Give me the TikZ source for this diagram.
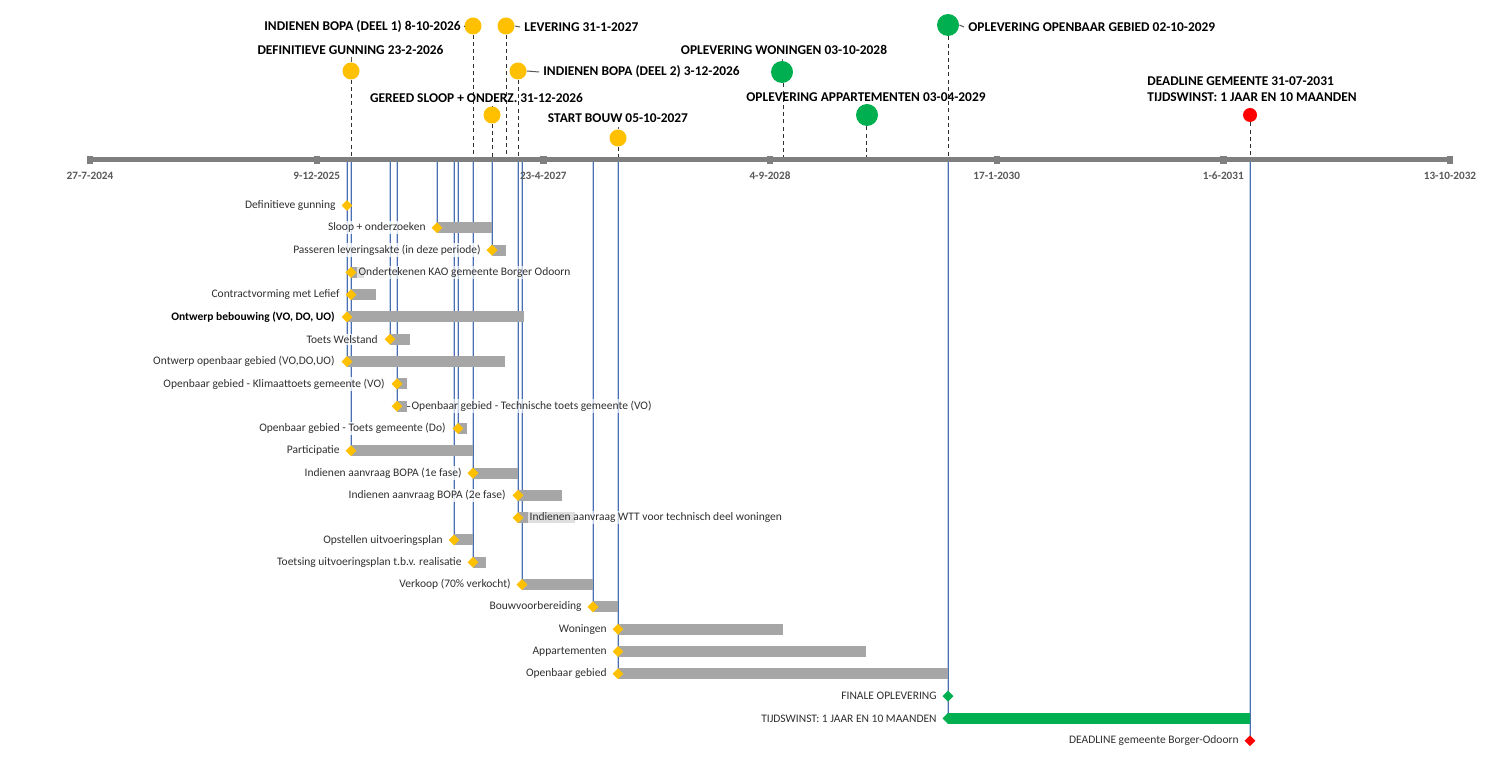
\documentclass[tikz,border=0pt]{standalone}
\usepackage{fontspec}
\setmainfont{Carlito}
\usetikzlibrary{shapes.geometric}
\definecolor{cyel}{HTML}{FFC000}
\definecolor{cgreen}{HTML}{00B050}
\definecolor{cred}{HTML}{FF0000}
\definecolor{cbar}{HTML}{A6A6A6}
\definecolor{caxis}{HTML}{7F7F7F}
\definecolor{ctext}{HTML}{303030}
\definecolor{ctick}{HTML}{595959}
\definecolor{cblue}{HTML}{4A6FB0}
\definecolor{cbluel}{HTML}{C3D2EA}
\begin{document}
\begin{tikzpicture}[x=0.5pt,y=-0.5pt,
  tasklbl/.style={anchor=east,xshift=1pt,inner xsep=1pt,inner ysep=0.8pt,text=ctext,fill=white,fill opacity=0.8,text opacity=1,font=\fontsize{5.75}{6.8}\selectfont},
  tasklblr/.style={anchor=west,inner xsep=0.6pt,inner ysep=0.8pt,text=ctext,fill=white,fill opacity=0.65,text opacity=1,font=\fontsize{5.75}{6.8}\selectfont},
  mslbl/.style={inner sep=0pt,text=black,font=\bfseries\fontsize{6.7}{8}\selectfont},
  axlbl/.style={inner sep=0pt,text=ctick,font=\bfseries\fontsize{5.6}{6.6}\selectfont},
  dia/.style={diamond,fill=cyel,inner sep=0pt,minimum size=5.6pt},
  diag/.style={diamond,fill=cgreen,inner sep=0pt,minimum size=5.6pt},
  diar/.style={diamond,fill=cred,inner sep=0pt,minimum size=5.6pt},
  msy/.style={circle,fill=cyel,inner sep=0pt,minimum size=8.5pt},
  msg/.style={circle,fill=cgreen,inner sep=0pt,minimum size=11pt},
  msr/.style={circle,fill=cred,inner sep=0pt,minimum size=7pt},
  bar/.style={fill=cbar},
  leadbg/.style={draw=cbluel,line width=1.4pt},
  lead/.style={draw=cblue,line width=0.45pt},
  dashln/.style={draw=ctext,line width=0.5pt,dash pattern=on 2pt off 1.6pt},
  mslead/.style={draw=ctick,line width=0.5pt},
  axisln/.style={draw=caxis,line width=2.5pt},
  tickbox/.style={rectangle,fill=caxis,inner sep=0pt,minimum width=3.2pt,minimum height=4pt}
]
\useasboundingbox[fill=white] (0,0) rectangle (1500,780);

% ---------- row coordinates ----------
\coordinate (r1) at (347,205.5);
\coordinate (r2) at (437,227.8);
\coordinate (r3) at (492,250.1);
\coordinate (r4) at (351,272.4);
\coordinate (r5) at (351,294.7);
\coordinate (r6) at (347,317.0);
\coordinate (r7) at (390,339.3);
\coordinate (r8) at (347,361.6);
\coordinate (r9) at (397,383.9);
\coordinate (r10) at (397,406.2);
\coordinate (r11) at (458,428.5);
\coordinate (r12) at (351,450.8);
\coordinate (r13) at (473,473.1);
\coordinate (r14) at (518,495.4);
\coordinate (r15) at (518,517.7);
\coordinate (r16) at (454,540.0);
\coordinate (r17) at (473,562.3);
\coordinate (r18) at (522,584.6);
\coordinate (r19) at (593,606.9);
\coordinate (r20) at (618,629.2);
\coordinate (r21) at (618,651.5);
\coordinate (r22) at (618,673.8);
\coordinate (r23) at (948,696.1);
\coordinate (r24) at (948,718.4);
\coordinate (r25) at (1250,740.7);

% ---------- axis coordinates for leader lines ----------
\foreach \n/\x in {a347/347,a351/351,a390/390,a397/397,a437/437,a454/454,a458/458,a473/473,a492/492,a518/518,a522/522,a593/593,a618/618,a948/948,a1250/1250}
  \coordinate (\n) at (\x,161);

% ---------- leader lines (blue) ----------
\foreach \a/\r in {a347/r8,a351/r12,a390/r7,a397/r10,a437/r2,a454/r16,a458/r11,a473/r17,a492/r3,a518/r15,a522/r18,a593/r19,a618/r22,a948/r24,a1250/r25}{
  \draw[leadbg] (\a) -- (\a |- \r);
  \draw[lead] (\a) -- (\a |- \r);
}

% ---------- bars ----------
\foreach \xa/\xb/\y in {437/492/227.8,492/506/250.1,351/364/272.4,351/376/294.7,347/524/317.0,390/410/339.3,347/505/361.6,397/407/383.9,397/407/406.2,458/467/428.5,351/473/450.8,473/518/473.1,518/562/495.4,518/575/517.7,454/473/540.0,473/486/562.3,522/593/584.6,593/618/606.9,618/783/629.2,618/866/651.5,618/948/673.8}
  \fill[bar] (\xa,\y-5.5) rectangle (\xb,\y+5.5);
\fill[cgreen] (948,718.4-5.5) rectangle (1250,718.4+5.5);

% ---------- diamonds ----------
\foreach \r in {r1,r2,r3,r4,r5,r6,r7,r8,r9,r10,r11,r12,r13,r14,r15,r16,r17,r18,r19,r20,r21,r22}
  \node[dia] (d\r) at (\r) {};
\node[diag] (dr23) at (r23) {};
\node[diag] (dr24) at (r24) {};
\node[diar] (dr25) at (r25) {};

% ---------- task labels ----------
\node[tasklbl] (t1) at (336,205.5) {Definitieve gunning};
\node[tasklbl] (t2) at (426,227.8) {Sloop + onderzoeken};
\node[tasklbl] (t3) at (481,250.1) {Passeren leveringsakte (in deze periode)};
\node[tasklblr] (t4) at (357,272.4) {Ondertekenen KAO gemeente Borger Odoorn};
\node[tasklbl] (t5) at (340,294.7) {Contractvorming met Lefief};
\node[tasklbl,text=black,font=\bfseries\fontsize{5.75}{6.8}\selectfont] (t6) at (335,317.0) {Ontwerp bebouwing (VO, DO, UO)};
\node[tasklbl] (t7) at (378,339.3) {Toets Welstand};
\node[tasklbl] (t8) at (335,361.6) {Ontwerp openbaar gebied (VO,DO,UO)};
\node[tasklbl] (t9) at (385,383.9) {Openbaar gebied - Klimaattoets gemeente (VO)};
\draw[mslead] (407,406.2) -- (411,406.2);
\node[tasklblr] (t10) at (410,406.2) {Openbaar gebied - Technische toets gemeente (VO)};
\node[tasklbl] (t11) at (446,428.5) {Openbaar gebied - Toets gemeente (Do)};
\node[tasklbl] (t12) at (340,450.8) {Participatie};
\node[tasklbl] (t13) at (462,473.1) {Indienen aanvraag BOPA (1e fase)};
\node[tasklbl] (t14) at (506,495.4) {Indienen aanvraag BOPA (2e fase)};
\node[tasklblr] (t15) at (528,517.7) {Indienen aanvraag WTT voor technisch deel woningen};
\node[tasklbl] (t16) at (443,540.0) {Opstellen uitvoeringsplan};
\node[tasklbl] (t17) at (462,562.3) {Toetsing uitvoeringsplan t.b.v. realisatie};
\node[tasklbl] (t18) at (511,584.6) {Verkoop (70\% verkocht)};
\node[tasklbl] (t19) at (582,606.9) {Bouwvoorbereiding};
\node[tasklbl] (t20) at (607,629.2) {Woningen};
\node[tasklbl] (t21) at (607,651.5) {Appartementen};
\node[tasklbl] (t22) at (607,673.8) {Openbaar gebied};
\node[tasklbl] (t23) at (937,696.1) {FINALE OPLEVERING};
\node[tasklbl] (t24) at (937,718.4) {TIJDSWINST: 1 JAAR EN 10 MAANDEN};
\node[tasklbl] (t25) at (1239,740.7) {DEADLINE gemeente Borger-Odoorn};

% ---------- milestones ----------
\node[msy] (m1) at (351,71) {};
\node[msy] (m2) at (473,26) {};
\node[msy] (m3) at (506,26) {};
\node[msy] (m4) at (518,71) {};
\node[msy] (m5) at (492,115) {};
\node[msy] (m6) at (618,138) {};
\node[msg] (m7) at (782,72) {};
\node[msg] (m8) at (867,115) {};
\node[msg] (m9) at (948,25) {};
\node[msr] (m10) at (1250,115) {};

\foreach \m/\x in {m1/351,m2/473,m3/506,m4/518,m5/492,m6/618,m7/783,m8/866,m9/948,m10/1250}{
  \coordinate (b\m) at (\x,158);
  \draw[dashln] (\m.south -| b\m) -- (b\m);
}

\node[mslbl] (l1) at (350.5,50) {DEFINITIEVE GUNNING 23-2-2026};
\node[mslbl,anchor=east] (l2) at (461,27) {INDIENEN BOPA (DEEL 1) 8-10-2026};
\node[mslbl,anchor=west] (l3) at (524,27) {LEVERING 31-1-2027};
\node[mslbl,anchor=west] (l4) at (543,72) {INDIENEN BOPA (DEEL 2) 3-12-2026};
\node[mslbl] (l5) at (476.5,98) {GEREED SLOOP + ONDERZ. 31-12-2026};
\node[mslbl] (l6) at (618,118) {START BOUW 05-10-2027};
\node[mslbl] (l7) at (784,50) {OPLEVERING WONINGEN 03-10-2028};
\node[mslbl] (l8) at (866,97) {OPLEVERING APPARTEMENTEN 03-04-2029};
\node[mslbl,anchor=west] (l9) at (968,27) {OPLEVERING OPENBAAR GEBIED 02-10-2029};
\node[mslbl,anchor=west,align=left] (l10) at (1147,89.5) {DEADLINE GEMEENTE 31-07-2031\\TIJDSWINST: 1 JAAR EN 10 MAANDEN};

\draw[mslead] ([yshift=-1pt]l1.south -| m1) -- (m1.north);
\draw[mslead] ([xshift=2pt]l2.east) -- (m2.west);
\draw[mslead] (m3.east) -- ([xshift=-2pt]l3.west);
\draw[mslead] (m4.east) -- ([xshift=-2pt]l4.west);
\draw[mslead] ([yshift=-2pt]l5.south -| m5) -- (m5.north);
\draw[mslead] ([yshift=-2pt]l6.south -| m6) -- (m6.north);
\draw[mslead] ([yshift=-2pt]l7.south -| m7) -- (m7.north);
\draw[mslead] (m9.east) -- ([xshift=-2pt]l9.west);

% ---------- axis ----------
\coordinate (ax0) at (90,160);
\coordinate (ax6) at (1450,160);
\draw[axisln] (ax0) -- (ax6);
\foreach \i/\x/\d in {0/90/27-7-2024,1/316.7/9-12-2025,2/543.3/23-4-2027,3/770/4-9-2028,4/996.7/17-1-2030,5/1223.3/1-6-2031,6/1450/13-10-2032}{
  \node[tickbox] (k\i) at (\x,160) {};
  \node[axlbl] (x\i) at (\x,176) {\d};
}
\end{tikzpicture}
\end{document}
